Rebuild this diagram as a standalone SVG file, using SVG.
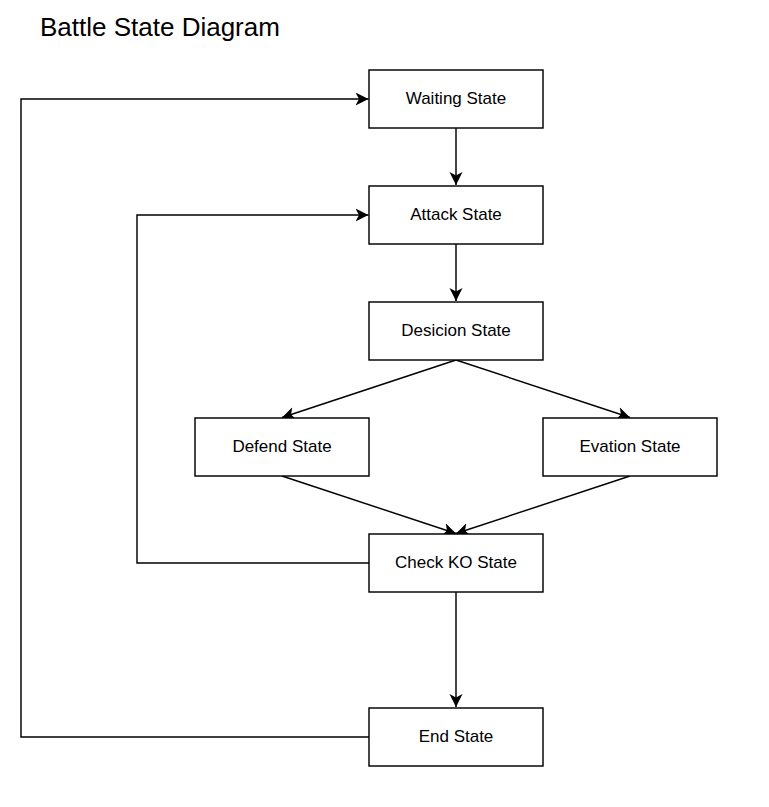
<svg xmlns="http://www.w3.org/2000/svg" width="769" height="807" viewBox="0 0 769 807">
<style>
.box{fill:#fff;stroke:#000;stroke-width:1.45}
.lbl{font-family:"Liberation Sans",Arial,sans-serif;font-size:17px;fill:#000;text-anchor:middle;dominant-baseline:central}
.edge{fill:none;stroke:#000;stroke-width:1.45}
</style>
<defs>
<marker id="arr" markerUnits="userSpaceOnUse" markerWidth="15" markerHeight="14" refX="13" refY="7" orient="auto" viewBox="0 0 15 14">
<path d="M0,0.5 L13,7 L0,13.5 L3.5,7 Z" fill="#000"/>
</marker>
</defs>
<rect width="769" height="807" fill="#fff"/>
<text x="40" y="36" font-family="'Liberation Sans',Arial,sans-serif" font-size="26" fill="#000">Battle State Diagram</text>
<g id="connectors">
<path class="edge" d="M456,128 V185" marker-end="url(#arr)"/>
<path class="edge" d="M456,244 V301" marker-end="url(#arr)"/>
<path class="edge" d="M456,360 L282,417.5" marker-end="url(#arr)"/>
<path class="edge" d="M456,360 L630,417.5" marker-end="url(#arr)"/>
<path class="edge" d="M282,476 L456,533.5" marker-end="url(#arr)"/>
<path class="edge" d="M630,476 L456,533.5" marker-end="url(#arr)"/>
<path class="edge" d="M456,592 V707" marker-end="url(#arr)"/>
<path class="edge" d="M369,563 H137 V215 H368.5" marker-end="url(#arr)"/>
<path class="edge" d="M369,737 H21 V99 H368.5" marker-end="url(#arr)"/>
</g>
<g id="waiting"><rect class="box" x="369" y="70" width="174" height="58"/><text class="lbl" x="456" y="98">Waiting State</text></g>
<g id="attack"><rect class="box" x="369" y="186" width="174" height="58"/><text class="lbl" x="456" y="214">Attack State</text></g>
<g id="desicion"><rect class="box" x="369" y="302" width="174" height="58"/><text class="lbl" x="456" y="330">Desicion State</text></g>
<g id="defend"><rect class="box" x="195" y="418" width="174" height="58"/><text class="lbl" x="282" y="446">Defend State</text></g>
<g id="evation"><rect class="box" x="543" y="418" width="174" height="58"/><text class="lbl" x="630" y="446">Evation State</text></g>
<g id="checkko"><rect class="box" x="369" y="534" width="174" height="58"/><text class="lbl" x="456" y="562">Check KO State</text></g>
<g id="end"><rect class="box" x="369" y="708" width="174" height="58"/><text class="lbl" x="456" y="736">End State</text></g>
</svg>
